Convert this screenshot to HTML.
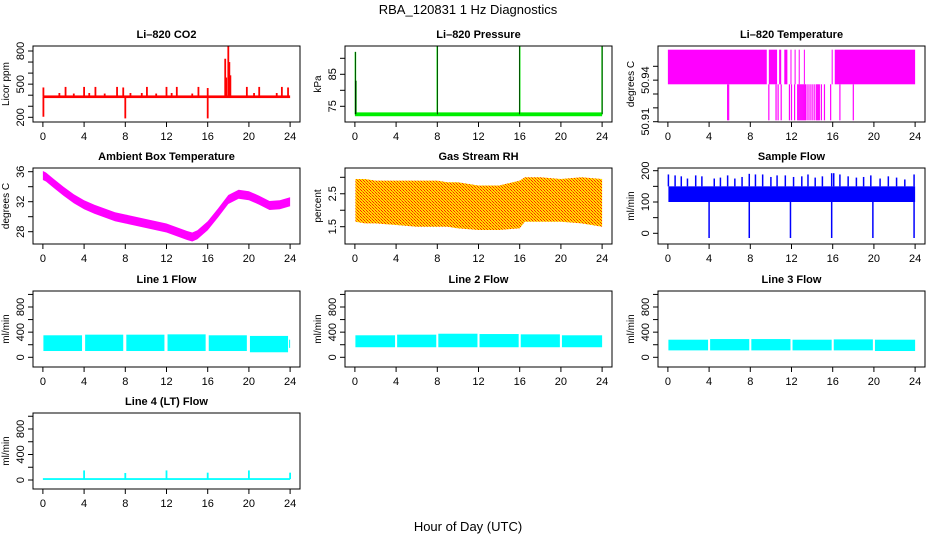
<!DOCTYPE html>
<html><head><meta charset="utf-8"><title>RBA_120831 1 Hz Diagnostics</title>
<style>
html,body{margin:0;padding:0;background:#fff;}
svg{display:block;font-family:"Liberation Sans",Arial,sans-serif;}
</style></head>
<body>
<svg id="chart" width="936" height="540" viewBox="0 0 936 540" xmlns="http://www.w3.org/2000/svg">
<defs>
<pattern id="rhpat" width="3" height="3" patternUnits="userSpaceOnUse">
<rect width="3" height="3" fill="#ffdd00"/><rect width="1" height="1" fill="#ff2200"/><rect x="1" y="1" width="1" height="1" fill="#ff2200"/><rect x="2" y="2" width="1" height="1" fill="#ff6600"/>
</pattern>
</defs>
<text x="468" y="14" font-size="13" text-anchor="middle">RBA_120831  1 Hz Diagnostics</text>
<text x="468" y="531" font-size="13" text-anchor="middle">Hour of Day (UTC)</text>
</svg>
<script>
// ---- data ----
const xTicks = [0,4,8,12,16,20,24];
const co2Base = 386;
const co2SpikeHours = [0.05,2.2,4,5.1,7.2,7.8,10.1,12,13,15.1,16,17.7,17.8,18,18.1,18.2,19.8,21,23.2,23.8,1.6,3,4.5,6,8.5,9.6,11,12.5,14.5,20.5,22.7,0.05,8,16];
const co2SpikeVals  = [470,475,475,475,475,470,475,475,475,475,465,730,560,860,700,580,475,475,475,470,420,415,420,415,420,420,415,420,415,420,420,205,190,190];
const presBase = 72.5;
const presSpikeHours = [0.05,0.1,8,16,24];
const presSpikeVals  = [92,83,94.5,95.5,95];
const tempHighStart = [0,9.8,10.8,11.3,11.9,12.3,12.7,13.2,15.9,16.2];
const tempHighEnd   = [9.6,10.6,11.0,11.6,12.0,12.4,12.8,13.3,16.0,24];
const tempLevels = [50.911,50.937,50.962];
const tempLowHours = [5.8,5.9,9.8,10.5,10.7,11.0,11.8,12.0,12.3,12.6,12.7,12.8,12.9,13.0,13.1,13.2,13.3,13.4,13.6,13.8,14.0,14.2,14.4,14.5,14.6,14.7,14.9,15.2,15.8,16.7,18.0];
const ambHours = [0,0.3,1,2,3,4,5,6,7,8,9,10,11,12,13,14,14.5,15,16,17,18,19,20,21,22,23,24];
const ambVals  = [35.5,35.3,34.5,33.4,32.4,31.6,31.0,30.5,30.0,29.7,29.4,29.1,28.8,28.5,28.0,27.5,27.3,27.6,28.8,30.5,32.3,33.0,32.8,32.2,31.5,31.6,32.0];
const rhHours = [0.05,1,2,4,6,8,9,10,12,14,16,16.5,18,20,22,24];
const rhUpper = [2.95,2.95,2.9,2.9,2.9,2.9,2.85,2.85,2.75,2.75,2.9,3.0,3.0,2.95,3.0,2.95];
const rhLower = [1.65,1.6,1.6,1.55,1.5,1.5,1.5,1.45,1.4,1.4,1.45,1.65,1.65,1.65,1.6,1.5];
const sfLow = 100, sfHigh = 150;
const sfSpikeHours = [0.05,0.7,1.3,1.9,2.7,3.3,4.5,5.1,5.8,6.5,7.2,7.9,8.5,9.2,10.0,10.6,11.4,12.2,13.0,13.6,14.3,15.0,15.9,16.1,16.7,17.5,18.3,19.0,19.7,20.6,21.4,22.2,23.0,23.9];
const sfSpikeVals  = [188,185,182,175,185,182,175,178,185,175,180,190,188,188,180,185,185,180,182,188,178,182,192,192,188,182,178,180,185,175,182,178,172,188];
const sfDipHours = [4,7.9,11.9,15.9,19.9,23.9];
const sfDipVals  = [-15,-15,-15,-15,-15,-15];
const l1Start = [0.05,4.1,8.1,12.1,16.1,20.1,23.9];
const l1End   = [3.8,7.8,11.8,15.8,19.8,23.8,24.0];
const l1Low   = [100,100,100,100,100,80,150];
const l1High  = [350,360,360,365,350,340,280];
const l2Start = [0.05,4.1,8.1,12.1,16.1,20.1];
const l2End   = [3.9,7.9,11.9,15.9,19.9,24.0];
const l2Low   = [160,160,160,160,160,160];
const l2High  = [350,360,375,370,365,350];
const l3Start = [0.05,4.1,8.1,12.1,16.1,20.1];
const l3End   = [3.9,7.9,11.9,15.9,19.9,24.0];
const l3Low   = [110,110,110,110,110,100];
const l3High  = [280,290,290,280,285,280];
const l4Base = 15;
const l4SpikeHours = [4,8,12,16,20,24];
const l4SpikeVals  = [150,110,150,115,150,115];

// ---- geometry ----
const svg = document.getElementById('chart');
const NS = 'http://www.w3.org/2000/svg';
const colX = [33,345,658], W = 267;
const rowY = [46,168,291,413], H = 76;
function mk(tag, attrs, parent){const e=document.createElementNS(NS,tag);for(const k in attrs)e.setAttribute(k,attrs[k]);(parent||svg).appendChild(e);return e;}

function panel(col,row,name,title,ylab,yA,pA,yB,pB,ticks,labels){
  const x0=colX[col], y0=rowY[row];
  const g = mk('g',{});
  
  
  const xs = h => x0 + (h+0.96)/25.92*W;
  const ys = v => pA + (v-yA)*(pB-pA)/(yB-yA);
  const clip = mk('clipPath',{id:'c'+name},g);
  mk('rect',{x:x0,y:y0,width:W,height:H},clip);
  const plot = mk('g',{'clip-path':'url(#c'+name+')'},g);
  
  
  const box = mk('rect',{x:x0,y:y0,width:W,height:H,fill:'none',stroke:'#000','stroke-width':1},g);
  
  
  const t = mk('text',{x:x0+W/2,y:y0-8,'font-size':11,'font-weight':'bold','text-anchor':'middle'},g);
  t.textContent = title;
  
  
  mk('line',{x1:xs(0),x2:xs(24),y1:y0+H,y2:y0+H,stroke:'#000'},g);
  xTicks.forEach(h=>{
    mk('line',{x1:xs(h),x2:xs(h),y1:y0+H,y2:y0+H+5,stroke:'#000'},g);
    const l = mk('text',{x:xs(h),y:y0+H+18,'font-size':11,'text-anchor':'middle'},g);
    l.textContent = h;
    
    
  });
  mk('line',{x1:x0,x2:x0,y1:ys(ticks[0]),y2:ys(ticks[ticks.length-1]),stroke:'#000'},g);
  ticks.forEach(v=>{mk('line',{x1:x0-5,x2:x0,y1:ys(v),y2:ys(v),stroke:'#000'},g);});
  labels.forEach(v=>{
    const l = mk('text',{x:0,y:0,'font-size':11,'text-anchor':'middle',transform:`translate(${x0-9},${ys(v)}) rotate(-90)`},g);
    l.textContent = v;
    
    
  });
  const yl = mk('text',{x:0,y:0,'font-size':10,'text-anchor':'middle',transform:`translate(${x0-24},${y0+H/2}) rotate(-90)`},g);
  yl.textContent = ylab;
  
  
  return {plot,xs,ys};
}
function vline(p,h,v1,v2,color,w,nm){
  const e = mk('line',{x1:p.xs(h),x2:p.xs(h),y1:p.ys(v1),y2:p.ys(v2),stroke:color,'stroke-width':w},p.plot);
  
  
}
function bandRect(p,h1,h2,lo,hi,fill,nm){
  const e = mk('rect',{x:p.xs(h1),y:p.ys(hi),width:Math.max(1,p.xs(h2)-p.xs(h1)),height:Math.max(1,p.ys(lo)-p.ys(hi)),fill:fill},p.plot);
  
  
}

// CO2
let p = panel(0,0,'co2','Li\u2013820 CO2','Licor ppm',200,117.3,800,51,[200,300,400,500,600,700,800],[200,500,800]);
co2SpikeHours.forEach((h,i)=>vline(p,h,co2Base,co2SpikeVals[i],'#ff0000',1.8,'co2-spike'));
bandRect(p,0,24,co2Base-12,co2Base+12,'#ff0000','co2-baseline');

// Pressure
p = panel(1,0,'pressure','Li\u2013820 Pressure','kPa',75,106.3,85,74.3,[75,80,85,90],[75,85]);
bandRect(p,0,24,presBase-0.6,presBase+0.6,'#00ee00','pressure-baseline');
presSpikeHours.forEach((h,i)=>vline(p,h,presBase,presSpikeVals[i],'#00dd00',1.5,'pressure-spike'));
presSpikeHours.forEach((h,i)=>vline(p,h,presBase,presSpikeVals[i],'#000',0.6,'pressure-spike-dots'));

// Li-820 temperature
p = panel(2,0,'li820-temp','Li\u2013820 Temperature','degrees C',50.91,121.7,50.95,66.3,[50.91,50.92,50.93,50.94,50.95],[50.91,50.94]);
tempHighStart.forEach((s,i)=>bandRect(p,s,tempHighEnd[i],tempLevels[1],tempLevels[2],'#ff00ff','temp-high-band'));
tempLowHours.forEach(h=>vline(p,h,tempLevels[0],tempLevels[1],'#ff00ff',1.2,'temp-low-spike'));

// Ambient box temperature
p = panel(0,1,'ambient','Ambient Box Temperature','degrees C',28,231.7,36,171.7,[28,30,32,34,36],[28,32,36]);
{
  const up = ambHours.map((h,i)=>p.xs(h)+','+p.ys(ambVals[i]+0.6));
  const dn = ambHours.map((h,i)=>p.xs(h)+','+p.ys(ambVals[i]-0.6)).reverse();
  const e = mk('polygon',{points:up.concat(dn).join(' '),fill:'#ff00ff'},p.plot);
  
  
}

// Gas stream RH
p = panel(1,1,'rh','Gas Stream RH','percent',1.5,226.7,3,177.3,[1.5,2,2.5,3],[1.5,2.5]);
{
  const up = rhHours.map((h,i)=>p.xs(h)+','+p.ys(rhUpper[i]));
  const dn = rhHours.map((h,i)=>p.xs(h)+','+p.ys(rhLower[i])).reverse();
  const e = mk('polygon',{points:up.concat(dn).join(' '),fill:'url(#rhpat)'},p.plot);
  
  
}

// Sample flow
p = panel(2,1,'sample-flow','Sample Flow','ml/min',0,233.3,200,170.7,[0,50,100,150,200],[0,100,200]);
bandRect(p,0.05,24,sfLow,sfHigh,'#0000ff','sample-flow-band');
sfSpikeHours.forEach((h,i)=>vline(p,h,sfHigh,sfSpikeVals[i],'#0000ff',1.5,'sample-flow-spike'));
sfDipHours.forEach((h,i)=>vline(p,h,sfLow,sfDipVals[i],'#0000ff',1.5,'sample-flow-dip'));

// Line flows
const flowTicks=[0,200,400,600,800,1000], flowLabels=[0,400,800];
function flowPanel(col,row,name,title,st,en,lo,hi){
  const off = (row-2)*122.7;
  const q = panel(col,row,name,title,'ml/min',0,357.3+off,800,307+off,flowTicks,flowLabels);
  st.forEach((s,i)=>bandRect(q,s,en[i],lo[i],hi[i],'#00ffff',name+'-band'));
  return q;
}
flowPanel(0,2,'line1-flow','Line 1 Flow',l1Start,l1End,l1Low,l1High);
flowPanel(1,2,'line2-flow','Line 2 Flow',l2Start,l2End,l2Low,l2High);
flowPanel(2,2,'line3-flow','Line 3 Flow',l3Start,l3End,l3Low,l3High);
p = panel(0,3,'line4-flow','Line 4 (LT) Flow','ml/min',0,480,800,429,flowTicks,flowLabels);
bandRect(p,0,24,l4Base-14,l4Base+14,'#00ffff','line4-baseline');
l4SpikeHours.forEach((h,i)=>vline(p,h,l4Base,l4SpikeVals[i],'#00ffff',1.8,'line4-spike'));
</script>
</body></html>
